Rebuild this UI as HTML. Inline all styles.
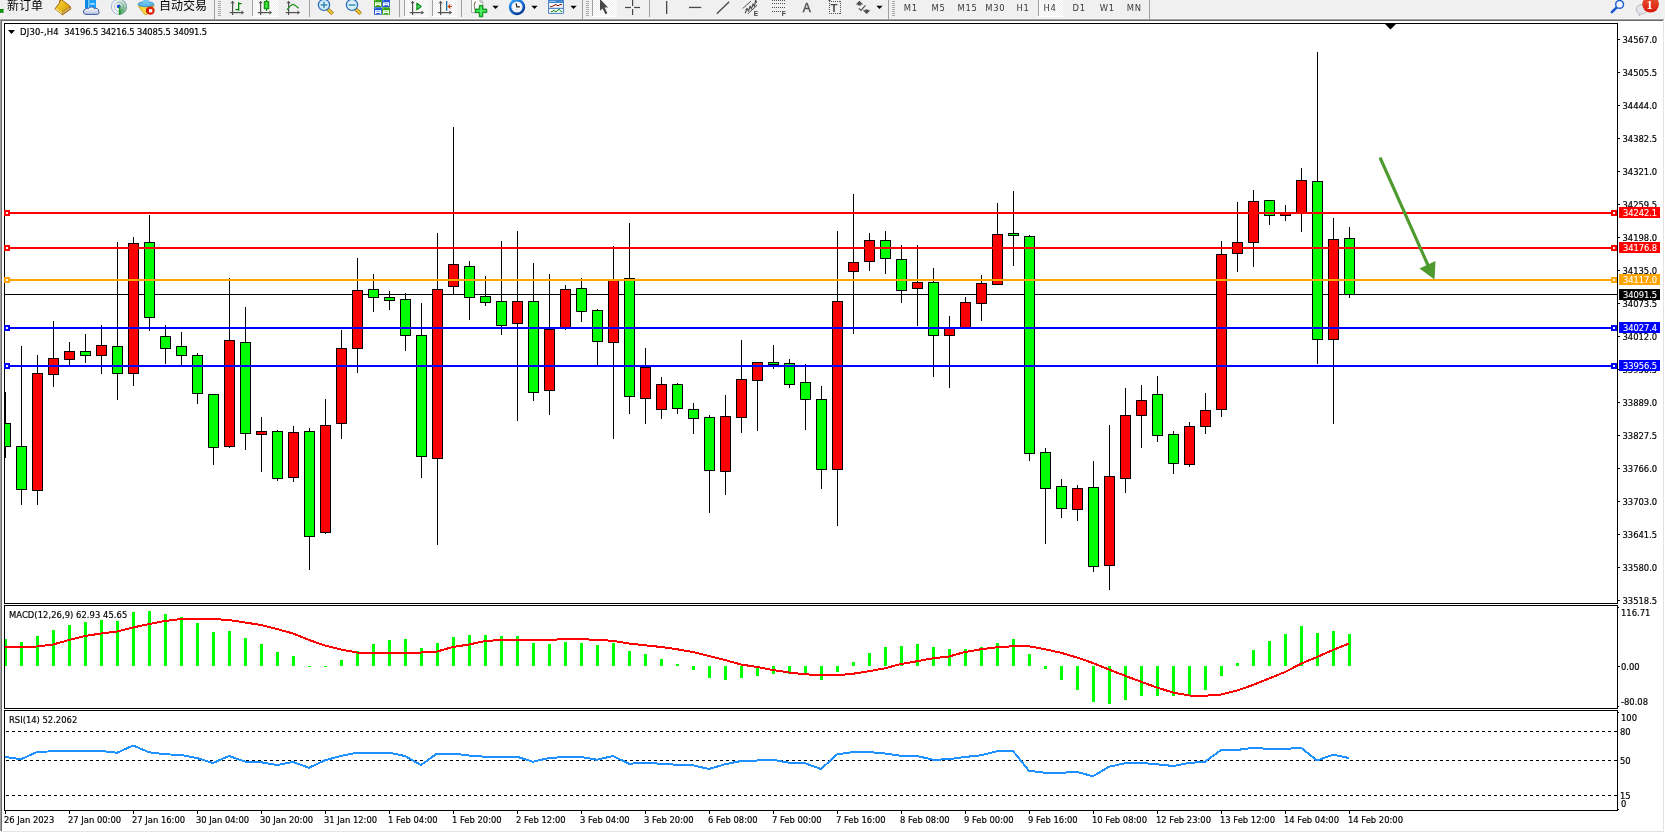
<!DOCTYPE html>
<html><head><meta charset="utf-8"><title>DJ30-,H4</title>
<style>
html,body{margin:0;padding:0;background:#fff;overflow:hidden}
body{width:1665px;height:833px;position:relative;font-family:"Liberation Sans","Noto Sans CJK SC",sans-serif}
.t{position:absolute;font-family:"DejaVu Sans Condensed","Liberation Sans",sans-serif;font-size:9.33px;line-height:12px;height:12px;white-space:pre;-webkit-text-stroke:0.18px currentColor}
.pb{position:absolute;left:1619px;width:41px;height:11px;color:#fff;font-family:"DejaVu Sans Condensed","Liberation Sans",sans-serif;font-size:9.33px;line-height:11px;white-space:pre}
.pb span{display:inline-block;margin-left:4px;-webkit-text-stroke:0.08px currentColor;letter-spacing:-0.1px}
#tb{position:absolute;left:0;top:0;width:1665px;height:22px;background:#f0f0f0}

.cj{position:absolute;font-size:12px;line-height:18px;height:18px;color:#000;white-space:pre;font-family:"Liberation Sans","Noto Sans CJK SC",sans-serif}
.tf{position:absolute;top:1px;font-family:"DejaVu Sans Condensed","Liberation Sans",sans-serif;font-size:9.33px;line-height:13px;color:#3a3a3a;white-space:pre;letter-spacing:0.7px}

</style></head><body>
<div id="tb"><svg width="1665" height="23" viewBox="0 0 1665 23" style="position:absolute;left:0;top:0;will-change:transform">
<defs><pattern id="dz" width="2" height="2" patternUnits="userSpaceOnUse"><rect width="2" height="2" fill="#f0f0f0"/><rect width="1" height="1" fill="#fff"/><rect x="1" y="1" width="1" height="1" fill="#fff"/></pattern><linearGradient id="gold" x1="0" y1="0" x2="1" y2="1"><stop offset="0" stop-color="#f8e060"/><stop offset="0.5" stop-color="#e8b818"/><stop offset="1" stop-color="#c88a10"/></linearGradient><linearGradient id="cloud" x1="0" y1="0" x2="0" y2="1"><stop offset="0" stop-color="#ffffff"/><stop offset="1" stop-color="#b8c4dc"/></linearGradient><linearGradient id="badge" x1="0" y1="0" x2="0" y2="1"><stop offset="0" stop-color="#e85838"/><stop offset="1" stop-color="#d81808"/></linearGradient><linearGradient id="grn" x1="0" y1="0" x2="1" y2="0"><stop offset="0" stop-color="#00b000"/><stop offset="0.5" stop-color="#50e850"/><stop offset="1" stop-color="#00a800"/></linearGradient><radialGradient id="lens"><stop offset="0" stop-color="#f0fbff"/><stop offset="1" stop-color="#c0e4f4"/></radialGradient><linearGradient id="clk" x1="0" y1="0" x2="0.6" y2="1"><stop offset="0" stop-color="#38a8f8"/><stop offset="0.55" stop-color="#1068d0"/><stop offset="1" stop-color="#083c98"/></linearGradient></defs>
<rect x="0" y="0" width="1665" height="18" fill="#f0f0f0"/>
<rect x="0" y="18" width="1665" height="1" fill="#f5f5f5"/>
<rect x="0" y="19" width="1664" height="1" fill="#a0a0a0"/>
<rect x="1" y="20" width="1662" height="1" fill="#696969"/>
<rect x="0" y="20" width="1" height="3" fill="#a0a0a0"/>
<rect x="1" y="21" width="1" height="2" fill="#696969"/>
<rect x="2" y="21" width="1661" height="2" fill="#fff"/>
<rect x="1663" y="20" width="1" height="3" fill="#e3e3e3"/><rect x="1664" y="19" width="1" height="4" fill="#fff"/>
<rect x="0" y="9" width="3.5" height="3.5" fill="#10a010"/><rect x="0" y="9" width="3.5" height="1" fill="#088008"/><rect x="0" y="11.7" width="3.5" height="0.9" fill="#087008"/>
<polygon points="60.6,-1 70,6.2 70.9,8.8 62.5,14.8 55,8.8 59.4,3" fill="url(#gold)" stroke="#a86808" stroke-width="1" stroke-linejoin="round"/><polygon points="69.9,6.9 70.5,8.6 62.7,14.1 61.9,12.5" fill="#d8c888" stroke="#986008" stroke-width="0.6"/><line x1="56" y1="8.7" x2="62" y2="13.3" stroke="#fce890" stroke-width="1.1"/><line x1="60.6" y1="-1" x2="59.4" y2="3" stroke="#a86808" stroke-width="1"/>
<rect x="85" y="-1" width="11" height="9.5" fill="#18a0f8"/><rect x="85" y="-1" width="3.4" height="9.5" fill="#0888e0"/><rect x="88.4" y="-1" width="0.9" height="9.5" fill="#b8e4ff"/><rect x="90.3" y="3.3" width="4.4" height="1.2" fill="#e8f6ff"/><path d="M86,14.4 a2.7,2.7 0 0 1 -0.6,-5.3 a2.6,2.6 0 0 1 3.2,-0.6 a3.3,3.3 0 0 1 5.8,0.2 a2.7,2.7 0 0 1 4.2,2.6 a1.9,1.9 0 0 1 -1,3.1 z" fill="url(#cloud)" stroke="#3858a0" stroke-width="1"/>
<circle cx="119" cy="6.7" r="7.9" fill="#f8f8f4" opacity="0.7"/><path d="M119,6.7 L118.72,14.60 A7.9,7.9 0 0 0 122.71,13.68 Z" fill="#2c9c34" opacity="0.85"/><path d="M119,6.7 L122.71,13.68 A7.9,7.9 0 0 0 125.70,10.89 Z" fill="#2c9c34" opacity="0.68"/><path d="M119,6.7 L125.70,10.89 A7.9,7.9 0 0 0 126.90,6.98 Z" fill="#2c9c34" opacity="0.52"/><path d="M119,6.7 L126.90,6.98 A7.9,7.9 0 0 0 125.98,2.99 Z" fill="#2c9c34" opacity="0.38"/><path d="M119,6.7 L125.98,2.99 A7.9,7.9 0 0 0 123.19,0.00 Z" fill="#2c9c34" opacity="0.26"/><path d="M119,6.7 L123.19,0.00 A7.9,7.9 0 0 0 119.28,-1.20 Z" fill="#2c9c34" opacity="0.16"/><path d="M119,6.7 L119.28,-1.20 A7.9,7.9 0 0 0 115.29,-0.28 Z" fill="#2c9c34" opacity="0.08"/><g fill="none"><circle cx="119" cy="6.7" r="7.6" stroke="#3868c8" stroke-width="1" opacity="0.45"/><circle cx="119" cy="6.7" r="4.6" stroke="#3868c8" stroke-width="1" opacity="0.4"/></g><circle cx="118.7" cy="6.4" r="1.9" fill="#2050c8"/><rect x="119" y="7" width="1.3" height="7.7" fill="#18a020"/>
<path d="M138.3,6.2 L154.1,5.8 L150,11 L146.6,14.7 L144.6,14.2 Z" fill="#f8d840" stroke="#d09010" stroke-width="0.8" stroke-linejoin="round"/><ellipse cx="146" cy="4.2" rx="8" ry="2.5" fill="#60b8e8" stroke="#2888b8" stroke-width="0.8"/><path d="M142.6,4 L143.6,-1 L148.4,-1 L149.6,4 Z" fill="#70c4f0"/><circle cx="150.5" cy="10.6" r="4.2" fill="#e02000"/><path d="M147.6,7.6 a4.2,4.2 0 0 0 0,6" fill="none" stroke="#a81800" stroke-width="1"/><rect x="149" y="9.1" width="3.3" height="3.2" fill="#fff"/>
<rect x="214" y="0" width="1" height="19" fill="#a0a0a0" shape-rendering="crispEdges"/>
<rect x="218" y="1" width="3" height="1" fill="#a8a8a8" shape-rendering="crispEdges"/>
<rect x="218" y="3" width="3" height="1" fill="#a8a8a8" shape-rendering="crispEdges"/>
<rect x="218" y="5" width="3" height="1" fill="#a8a8a8" shape-rendering="crispEdges"/>
<rect x="218" y="7" width="3" height="1" fill="#a8a8a8" shape-rendering="crispEdges"/>
<rect x="218" y="9" width="3" height="1" fill="#a8a8a8" shape-rendering="crispEdges"/>
<rect x="218" y="11" width="3" height="1" fill="#a8a8a8" shape-rendering="crispEdges"/>
<rect x="218" y="13" width="3" height="1" fill="#a8a8a8" shape-rendering="crispEdges"/>
<rect x="218" y="15" width="3" height="1" fill="#a8a8a8" shape-rendering="crispEdges"/>
<g fill="#505050"><rect x="232" y="2" width="1.2" height="13"/><polygon points="230.5,3.3 232.6,0.8 234.7,3.3"/><rect x="229.8" y="12" width="12" height="1.2"/><polygon points="241.5,10.5 244,12.6 241.5,14.7"/></g>
<g fill="#008800"><rect x="238" y="2.2" width="1.3" height="8.6"/><rect x="238" y="3" width="3.6" height="1.2"/><rect x="235.6" y="9" width="3" height="1.2"/></g>
<rect x="252" y="0" width="1" height="17" fill="#a0a0a0" shape-rendering="crispEdges"/>
<rect x="253" y="0" width="25" height="16" fill="url(#dz)" shape-rendering="crispEdges"/>
<rect x="252" y="16" width="26" height="1" fill="#fff" shape-rendering="crispEdges"/>
<g fill="#505050"><rect x="260" y="2" width="1.2" height="13"/><polygon points="258.5,3.3 260.6,0.8 262.7,3.3"/><rect x="257.8" y="12" width="12" height="1.2"/><polygon points="269.5,10.5 272,12.6 269.5,14.7"/></g>
<rect x="265.9" y="-1" width="1.3" height="11.8" fill="#008800"/><rect x="264.2" y="1.6" width="4.6" height="7.2" fill="url(#grn)" stroke="#008800" stroke-width="0.9"/>
<g fill="#505050"><rect x="288" y="2" width="1.2" height="13"/><polygon points="286.5,3.3 288.6,0.8 290.7,3.3"/><rect x="285.8" y="12" width="12" height="1.2"/><polygon points="297.5,10.5 300,12.6 297.5,14.7"/></g>
<path d="M287,9.8 Q290.5,5 293.2,4.4 Q295.5,5.2 298.6,8.2" fill="none" stroke="#289828" stroke-width="1.3"/>
<rect x="309" y="0" width="1" height="17" fill="#a0a0a0" shape-rendering="crispEdges"/>
<line x1="327.8" y1="9.2" x2="332.7" y2="13.8" stroke="#a06808" stroke-width="3.6"/><line x1="328.2" y1="9.6" x2="332.4" y2="13.5" stroke="#f0d030" stroke-width="2"/><circle cx="324" cy="4.9" r="5.6" fill="url(#lens)" stroke="#2868b8" stroke-width="1.2"/><rect x="320.8" y="4.2" width="6.4" height="1.5" fill="#3888b0"/>
<rect x="323.25" y="1.7" width="1.5" height="6.4" fill="#3888b0"/>
<line x1="355.8" y1="9.2" x2="360.7" y2="13.8" stroke="#a06808" stroke-width="3.6"/><line x1="356.2" y1="9.6" x2="360.4" y2="13.5" stroke="#f0d030" stroke-width="2"/><circle cx="352" cy="4.9" r="5.6" fill="url(#lens)" stroke="#2868b8" stroke-width="1.2"/><rect x="348.8" y="4.2" width="6.4" height="1.5" fill="#3888b0"/>
<rect x="374" y="-0.6" width="7.9" height="7.5" rx="0.6" fill="#38a018"/><rect x="375" y="2.3" width="6" height="3.7" fill="#fff"/><rect x="376.2" y="3.1999999999999997" width="3.6" height="0.9" fill="#a0e080"/><rect x="376.2" y="5.1000000000000005" width="3.6" height="1" fill="#38a018"/><rect x="375" y="0.4" width="0.9" height="0.8" fill="#a0e080"/>
<rect x="382.1" y="-0.6" width="7.9" height="7.5" rx="0.6" fill="#2458d8"/><rect x="383.1" y="2.3" width="6" height="3.7" fill="#fff"/><rect x="384.3" y="3.1999999999999997" width="3.6" height="0.9" fill="#90b0f8"/><rect x="384.3" y="5.1000000000000005" width="3.6" height="1" fill="#2458d8"/><rect x="383.1" y="0.4" width="0.9" height="0.8" fill="#90b0f8"/>
<rect x="374" y="7.3" width="7.9" height="7.5" rx="0.6" fill="#2458d8"/><rect x="375" y="10.2" width="6" height="3.7" fill="#fff"/><rect x="376.2" y="11.1" width="3.6" height="0.9" fill="#90b0f8"/><rect x="376.2" y="13.0" width="3.6" height="1" fill="#2458d8"/><rect x="375" y="8.3" width="0.9" height="0.8" fill="#90b0f8"/>
<rect x="382.1" y="7.3" width="7.9" height="7.5" rx="0.6" fill="#38a018"/><rect x="383.1" y="10.2" width="6" height="3.7" fill="#fff"/><rect x="384.3" y="11.1" width="3.6" height="0.9" fill="#a0e080"/><rect x="384.3" y="13.0" width="3.6" height="1" fill="#38a018"/><rect x="383.1" y="8.3" width="0.9" height="0.8" fill="#a0e080"/>
<rect x="399" y="0" width="1" height="17" fill="#a0a0a0" shape-rendering="crispEdges"/>
<rect x="404" y="0" width="1" height="17" fill="#a0a0a0" shape-rendering="crispEdges"/>
<rect x="405" y="0" width="24" height="16" fill="url(#dz)" shape-rendering="crispEdges"/>
<rect x="404" y="16" width="25" height="1" fill="#fff" shape-rendering="crispEdges"/>
<g fill="#505050"><rect x="412" y="2" width="1.2" height="13"/><polygon points="410.5,3.3 412.6,0.8 414.7,3.3"/><rect x="409.8" y="12" width="12" height="1.2"/><polygon points="421.5,10.5 424,12.6 421.5,14.7"/></g>
<polygon points="416.9,3.1 421.2,6.5 416.9,9.9" fill="#50e070" stroke="#088c10" stroke-width="1.2" stroke-linejoin="round"/>
<rect x="432" y="0" width="1" height="17" fill="#a0a0a0" shape-rendering="crispEdges"/>
<rect x="433" y="0" width="24" height="16" fill="url(#dz)" shape-rendering="crispEdges"/>
<rect x="432" y="16" width="25" height="1" fill="#fff" shape-rendering="crispEdges"/>
<g fill="#505050"><rect x="440" y="2" width="1.2" height="13"/><polygon points="438.5,3.3 440.6,0.8 442.7,3.3"/><rect x="437.8" y="12" width="12" height="1.2"/><polygon points="449.5,10.5 452,12.6 449.5,14.7"/></g>
<rect x="446" y="1" width="1.3" height="9.8" fill="#1870a0"/><polygon points="447.5,6.5 450.5,3.8 450,6 452,6 452,7 450,7 450.5,9.2" fill="#d84000"/>
<rect x="461" y="0" width="1" height="17" fill="#a0a0a0" shape-rendering="crispEdges"/>
<path d="M471.5,-1 L480,-1 L482.8,2 L482.8,12.6 L471.5,12.6 Z" fill="#fcfcfc" stroke="#a0a0a0" stroke-width="0.9"/><path d="M480,-1 L480,2 L482.8,2" fill="#e8e8e8" stroke="#909090" stroke-width="0.7"/><path d="M476,1.8 q-1.6,0.2 -1.4,2 q0.2,1.6 -0.8,2 q1,0.4 0.8,2 q-0.2,1.8 1.4,2" fill="none" stroke="#5a5030" stroke-width="0.9"/><path d="M479.3,5.4 h3.5 v3.7 h4 v3.5 h-4 v4.2 h-3.5 v-4.2 h-4.1 v-3.5 h4.1 z" fill="#10c828" stroke="#088010" stroke-width="0.9" stroke-linejoin="round"/><path d="M480.3,6.6 h1.5 v3.6 h3.8 v1.3 h-3.8 v4 h-1.5 v-4 h-3.9 v-1.3 h3.9 z" fill="#70f880" opacity="0.85"/>
<polygon points="492.3,5.8 498.7,5.8 495.5,9.1" fill="#000"/>
<rect x="514.5" y="-1" width="5" height="2.5" fill="#2890e8"/><circle cx="517" cy="7" r="6.9" fill="#fbfbfb" stroke="url(#clk)" stroke-width="2.6"/><path d="M516.2,3.4 L516.8,6.9 L519.9,6.9" fill="none" stroke="#222" stroke-width="1.2"/><rect x="516.2" y="9.2" width="1.4" height="0.7" fill="#78b0f0"/><circle cx="517" cy="7" r="4.6" fill="none" stroke="#b0b8c8" stroke-width="0.6" stroke-dasharray="0.8,1.6"/>
<polygon points="531.3,5.8 537.7,5.8 534.5,9.1" fill="#000"/>
<rect x="548.2" y="-1" width="15.6" height="14.7" rx="0.8" fill="#2a6cb8"/><rect x="549" y="0.4" width="14" height="2.2" fill="#4a90d8"/><rect x="549.4" y="0.9" width="6" height="0.8" fill="#b8dcff"/><rect x="549.1" y="3" width="13.8" height="4.8" fill="#fff"/><rect x="549.1" y="8.8" width="13.8" height="4.1" fill="#fff"/><rect x="550.2" y="6.0" width="2.599999999999909" height="1.1" fill="#8c1808"/><rect x="552.8" y="5.0" width="2.0" height="1.1" fill="#8c1808"/><rect x="554.8" y="4.0" width="1.8000000000000682" height="1.1" fill="#8c1808"/><rect x="556.6" y="5.0" width="2.7999999999999545" height="1.1" fill="#8c1808"/><rect x="559.4" y="4.0" width="2.3999999999999773" height="1.1" fill="#8c1808"/><rect x="551" y="11.0" width="1.7999999999999545" height="1.1" fill="#0c8c1c"/><rect x="552.8" y="10.0" width="1.8000000000000682" height="1.1" fill="#0c8c1c"/><rect x="554.6" y="11.0" width="2.199999999999932" height="1.1" fill="#0c8c1c"/><rect x="556.8" y="10.0" width="1.2000000000000455" height="1.1" fill="#0c8c1c"/><rect x="558" y="9.0" width="1.7999999999999545" height="1.1" fill="#0c8c1c"/><rect x="559.8" y="10.0" width="1.0" height="1.1" fill="#0c8c1c"/><rect x="560.8" y="11.0" width="1.2000000000000455" height="1.1" fill="#0c8c1c"/>
<polygon points="570.3,5.8 576.7,5.8 573.5,9.1" fill="#000"/>
<rect x="582" y="0" width="1" height="19" fill="#a0a0a0" shape-rendering="crispEdges"/>
<rect x="586" y="1" width="3" height="1" fill="#a8a8a8" shape-rendering="crispEdges"/>
<rect x="586" y="3" width="3" height="1" fill="#a8a8a8" shape-rendering="crispEdges"/>
<rect x="586" y="5" width="3" height="1" fill="#a8a8a8" shape-rendering="crispEdges"/>
<rect x="586" y="7" width="3" height="1" fill="#a8a8a8" shape-rendering="crispEdges"/>
<rect x="586" y="9" width="3" height="1" fill="#a8a8a8" shape-rendering="crispEdges"/>
<rect x="586" y="11" width="3" height="1" fill="#a8a8a8" shape-rendering="crispEdges"/>
<rect x="586" y="13" width="3" height="1" fill="#a8a8a8" shape-rendering="crispEdges"/>
<rect x="586" y="15" width="3" height="1" fill="#a8a8a8" shape-rendering="crispEdges"/>
<rect x="592" y="0" width="1" height="17" fill="#a0a0a0" shape-rendering="crispEdges"/>
<rect x="593" y="0" width="24" height="16" fill="url(#dz)" shape-rendering="crispEdges"/>
<rect x="592" y="16" width="25" height="1" fill="#fff" shape-rendering="crispEdges"/>
<polygon points="600,-1 600,10.8 602.6,8.4 605.4,14.2 607.4,13.2 604.6,7.6 608,7.4" fill="#484848"/>
<g fill="#484848"><rect x="625" y="6.9" width="6" height="1.2"/><rect x="634" y="6.9" width="6" height="1.2"/><rect x="632" y="-1" width="1.2" height="7"/><rect x="632" y="9" width="1.2" height="6"/></g>
<rect x="649" y="0" width="1" height="17" fill="#a0a0a0" shape-rendering="crispEdges"/>
<rect x="666" y="1" width="1.3" height="13" fill="#484848"/>
<rect x="689" y="6.8" width="12.2" height="1.3" fill="#484848"/>
<line x1="716.8" y1="13.8" x2="729.2" y2="1.8" stroke="#484848" stroke-width="1.3"/>
<g stroke="#505050" fill="none"><line x1="742.7" y1="8.5" x2="750.9" y2="1.2" stroke-width="1"/><line x1="747.8" y1="13.9" x2="757.3" y2="5" stroke-width="1"/><polyline transform="translate(1.1,0.7)" points="744.2,12.6 745.8,7.6 747.4,10.4 749,5.4 750.4,8.2 752,3.2 753.4,5.8 754.6,-0.8 755.4,2.2" stroke-width="1.2" stroke-linejoin="round"/></g>
<text x="753.8" y="15.8" font-family="Liberation Sans, sans-serif" font-weight="bold" font-size="6.6" fill="#404040">E</text>
<rect x="772" y="0" width="1" height="1" fill="#505050" shape-rendering="crispEdges"/>
<rect x="774" y="0" width="1" height="1" fill="#505050" shape-rendering="crispEdges"/>
<rect x="776" y="0" width="1" height="1" fill="#505050" shape-rendering="crispEdges"/>
<rect x="778" y="0" width="1" height="1" fill="#505050" shape-rendering="crispEdges"/>
<rect x="780" y="0" width="1" height="1" fill="#505050" shape-rendering="crispEdges"/>
<rect x="782" y="0" width="1" height="1" fill="#505050" shape-rendering="crispEdges"/>
<rect x="784" y="0" width="1" height="1" fill="#505050" shape-rendering="crispEdges"/>
<rect x="772" y="3" width="1" height="1" fill="#505050" shape-rendering="crispEdges"/>
<rect x="774" y="3" width="1" height="1" fill="#505050" shape-rendering="crispEdges"/>
<rect x="776" y="3" width="1" height="1" fill="#505050" shape-rendering="crispEdges"/>
<rect x="778" y="3" width="1" height="1" fill="#505050" shape-rendering="crispEdges"/>
<rect x="780" y="3" width="1" height="1" fill="#505050" shape-rendering="crispEdges"/>
<rect x="782" y="3" width="1" height="1" fill="#505050" shape-rendering="crispEdges"/>
<rect x="784" y="3" width="1" height="1" fill="#505050" shape-rendering="crispEdges"/>
<rect x="772" y="7" width="1" height="1" fill="#505050" shape-rendering="crispEdges"/>
<rect x="774" y="7" width="1" height="1" fill="#505050" shape-rendering="crispEdges"/>
<rect x="776" y="7" width="1" height="1" fill="#505050" shape-rendering="crispEdges"/>
<rect x="778" y="7" width="1" height="1" fill="#505050" shape-rendering="crispEdges"/>
<rect x="780" y="7" width="1" height="1" fill="#505050" shape-rendering="crispEdges"/>
<rect x="782" y="7" width="1" height="1" fill="#505050" shape-rendering="crispEdges"/>
<rect x="784" y="7" width="1" height="1" fill="#505050" shape-rendering="crispEdges"/>
<rect x="772" y="11" width="1" height="1" fill="#505050" shape-rendering="crispEdges"/>
<rect x="774" y="11" width="1" height="1" fill="#505050" shape-rendering="crispEdges"/>
<rect x="776" y="11" width="1" height="1" fill="#505050" shape-rendering="crispEdges"/>
<rect x="778" y="11" width="1" height="1" fill="#505050" shape-rendering="crispEdges"/>
<rect x="780" y="11" width="1" height="1" fill="#505050" shape-rendering="crispEdges"/>
<text x="781.8" y="15.8" font-family="Liberation Sans, sans-serif" font-weight="bold" font-size="6.6" fill="#404040">F</text>
<text x="802.8" y="11.9" font-family="Liberation Sans, sans-serif" font-size="12" fill="#505050" stroke="#505050" stroke-width="0.45">A</text>
<rect x="829" y="1" width="1" height="1" fill="#505050" shape-rendering="crispEdges"/><rect x="829" y="13" width="1" height="1" fill="#505050" shape-rendering="crispEdges"/>
<rect x="831" y="1" width="1" height="1" fill="#505050" shape-rendering="crispEdges"/><rect x="831" y="13" width="1" height="1" fill="#505050" shape-rendering="crispEdges"/>
<rect x="833" y="1" width="1" height="1" fill="#505050" shape-rendering="crispEdges"/><rect x="833" y="13" width="1" height="1" fill="#505050" shape-rendering="crispEdges"/>
<rect x="835" y="1" width="1" height="1" fill="#505050" shape-rendering="crispEdges"/><rect x="835" y="13" width="1" height="1" fill="#505050" shape-rendering="crispEdges"/>
<rect x="837" y="1" width="1" height="1" fill="#505050" shape-rendering="crispEdges"/><rect x="837" y="13" width="1" height="1" fill="#505050" shape-rendering="crispEdges"/>
<rect x="839" y="1" width="1" height="1" fill="#505050" shape-rendering="crispEdges"/><rect x="839" y="13" width="1" height="1" fill="#505050" shape-rendering="crispEdges"/>
<rect x="829" y="1" width="1" height="1" fill="#505050" shape-rendering="crispEdges"/><rect x="840" y="1" width="1" height="1" fill="#505050" shape-rendering="crispEdges"/>
<rect x="829" y="3" width="1" height="1" fill="#505050" shape-rendering="crispEdges"/><rect x="840" y="3" width="1" height="1" fill="#505050" shape-rendering="crispEdges"/>
<rect x="829" y="5" width="1" height="1" fill="#505050" shape-rendering="crispEdges"/><rect x="840" y="5" width="1" height="1" fill="#505050" shape-rendering="crispEdges"/>
<rect x="829" y="7" width="1" height="1" fill="#505050" shape-rendering="crispEdges"/><rect x="840" y="7" width="1" height="1" fill="#505050" shape-rendering="crispEdges"/>
<rect x="829" y="9" width="1" height="1" fill="#505050" shape-rendering="crispEdges"/><rect x="840" y="9" width="1" height="1" fill="#505050" shape-rendering="crispEdges"/>
<rect x="829" y="11" width="1" height="1" fill="#505050" shape-rendering="crispEdges"/><rect x="840" y="11" width="1" height="1" fill="#505050" shape-rendering="crispEdges"/>
<rect x="829" y="13" width="1" height="1" fill="#505050" shape-rendering="crispEdges"/><rect x="840" y="13" width="1" height="1" fill="#505050" shape-rendering="crispEdges"/>
<rect x="828.5" y="-0.5" width="2" height="1.5" fill="#484848"/><text x="830.6" y="11.9" font-family="Liberation Sans, sans-serif" font-weight="bold" font-size="11.4" fill="#505050">T</text>
<g fill="#505050"><polygon points="859.4,0.8 863.2,4.4 861,4.4 861,5.4 857.8,5.4 857.8,4.4 855.6,4.4"/><polygon points="866.6,14 862.8,10.2 865,10.2 865,9.4 868.2,9.4 868.2,10.2 870.4,10.2"/></g><polyline points="858.8,8.4 861,10.4 865.4,5.4" fill="none" stroke="#505050" stroke-width="1.2"/>
<polygon points="876.3,5.8 882.7,5.8 879.5,9.1" fill="#000"/>
<rect x="888" y="0" width="1" height="19" fill="#a0a0a0" shape-rendering="crispEdges"/>
<rect x="892" y="1" width="3" height="1" fill="#a8a8a8" shape-rendering="crispEdges"/>
<rect x="892" y="3" width="3" height="1" fill="#a8a8a8" shape-rendering="crispEdges"/>
<rect x="892" y="5" width="3" height="1" fill="#a8a8a8" shape-rendering="crispEdges"/>
<rect x="892" y="7" width="3" height="1" fill="#a8a8a8" shape-rendering="crispEdges"/>
<rect x="892" y="9" width="3" height="1" fill="#a8a8a8" shape-rendering="crispEdges"/>
<rect x="892" y="11" width="3" height="1" fill="#a8a8a8" shape-rendering="crispEdges"/>
<rect x="892" y="13" width="3" height="1" fill="#a8a8a8" shape-rendering="crispEdges"/>
<rect x="892" y="15" width="3" height="1" fill="#a8a8a8" shape-rendering="crispEdges"/>
<rect x="1038" y="0" width="1" height="17" fill="#a0a0a0" shape-rendering="crispEdges"/>
<rect x="1039" y="0" width="24" height="16" fill="url(#dz)" shape-rendering="crispEdges"/>
<rect x="1038" y="16" width="25" height="1" fill="#fff" shape-rendering="crispEdges"/>
<rect x="1149" y="0" width="1" height="19" fill="#a0a0a0" shape-rendering="crispEdges"/>
<line x1="1616.2" y1="7.8" x2="1611.9" y2="12.1" stroke="#1a58d0" stroke-width="2.6" stroke-linecap="round"/><circle cx="1619.6" cy="4.4" r="3.9" fill="#f4f4ff" stroke="#2060d0" stroke-width="1.5"/>
<path d="M1636.2,9.2 a5.6,4.6 0 1 1 5.2,4.6 l-2.2,2 l0,-2.4 a5.2,4.4 0 0 1 -3,-4.2 z" fill="#e4e4ec" stroke="#b0b0b4" stroke-width="0.9"/><circle cx="1650.6" cy="4.3" r="8.3" fill="url(#badge)"/><text x="1646.6" y="9" font-family="Liberation Serif, serif" font-weight="bold" font-size="12.5" fill="#fff">1</text>
</svg>
<div class="cj" style="left:7px;top:-3px">新订单</div>
<div class="cj" style="left:159px;top:-3px">自动交易</div>
<div class="tf" style="left:903.8px">M1</div>
<div class="tf" style="left:931.6px">M5</div>
<div class="tf" style="left:957.6px">M15</div>
<div class="tf" style="left:985.2px">M30</div>
<div class="tf" style="left:1016.4px">H1</div>
<div class="tf" style="left:1043.6px">H4</div>
<div class="tf" style="left:1072.6px">D1</div>
<div class="tf" style="left:1099.8px">W1</div>
<div class="tf" style="left:1126.7px">MN</div></div>
<svg width="1665" height="833" viewBox="0 0 1665 833" style="position:absolute;left:0;top:0" shape-rendering="crispEdges">
<rect x="4" y="23" width="1614" height="1" fill="#000"/>
<rect x="4" y="23" width="1" height="581" fill="#000"/>
<rect x="1617" y="23" width="1" height="581" fill="#000"/>
<rect x="4" y="603" width="1614" height="1" fill="#000"/>
<rect x="4" y="605" width="1614" height="1" fill="#000"/>
<rect x="4" y="605" width="1" height="104" fill="#000"/>
<rect x="1617" y="605" width="1" height="104" fill="#000"/>
<rect x="4" y="708" width="1614" height="1" fill="#000"/>
<rect x="4" y="710" width="1614" height="1" fill="#000"/>
<rect x="4" y="710" width="1" height="101" fill="#000"/>
<rect x="1617" y="710" width="1" height="101" fill="#000"/>
<rect x="4" y="810" width="1614" height="1" fill="#000"/>
<rect x="0" y="20" width="1" height="811" fill="#a0a0a0"/>
<rect x="1" y="21" width="1" height="810" fill="#696969"/>
<rect x="1663" y="20" width="1" height="812" fill="#e3e3e3"/>
<rect x="1" y="831" width="1663" height="1" fill="#e3e3e3"/>
<polygon points="8,30 15,30 11.5,34" fill="#000" shape-rendering="auto"/>
<defs><clipPath id="cp"><rect x="5" y="24" width="1612" height="579"/></clipPath></defs>
<g clip-path="url(#cp)">
<rect x="5" y="294" width="1612" height="1" fill="#000"/>
<rect x="5" y="392" width="1" height="66" fill="#000"/>
<rect x="0" y="423" width="11" height="24" fill="#000"/>
<rect x="1" y="424" width="9" height="22" fill="#00ff00"/>
<rect x="21" y="346" width="1" height="159" fill="#000"/>
<rect x="16" y="446" width="11" height="44" fill="#000"/>
<rect x="17" y="447" width="9" height="42" fill="#00ff00"/>
<rect x="37" y="355" width="1" height="150" fill="#000"/>
<rect x="32" y="373" width="11" height="118" fill="#000"/>
<rect x="33" y="374" width="9" height="116" fill="#ff0000"/>
<rect x="53" y="321" width="1" height="66" fill="#000"/>
<rect x="48" y="358" width="11" height="17" fill="#000"/>
<rect x="49" y="359" width="9" height="15" fill="#ff0000"/>
<rect x="69" y="342" width="1" height="24" fill="#000"/>
<rect x="64" y="351" width="11" height="9" fill="#000"/>
<rect x="65" y="352" width="9" height="7" fill="#ff0000"/>
<rect x="85" y="334" width="1" height="29" fill="#000"/>
<rect x="80" y="351" width="11" height="5" fill="#000"/>
<rect x="81" y="352" width="9" height="3" fill="#00ff00"/>
<rect x="101" y="325" width="1" height="49" fill="#000"/>
<rect x="96" y="345" width="11" height="11" fill="#000"/>
<rect x="97" y="346" width="9" height="9" fill="#ff0000"/>
<rect x="117" y="242" width="1" height="158" fill="#000"/>
<rect x="112" y="346" width="11" height="28" fill="#000"/>
<rect x="113" y="347" width="9" height="26" fill="#00ff00"/>
<rect x="133" y="237" width="1" height="149" fill="#000"/>
<rect x="128" y="243" width="11" height="131" fill="#000"/>
<rect x="129" y="244" width="9" height="129" fill="#ff0000"/>
<rect x="149" y="215" width="1" height="116" fill="#000"/>
<rect x="144" y="242" width="11" height="76" fill="#000"/>
<rect x="145" y="243" width="9" height="74" fill="#00ff00"/>
<rect x="165" y="325" width="1" height="39" fill="#000"/>
<rect x="160" y="336" width="11" height="13" fill="#000"/>
<rect x="161" y="337" width="9" height="11" fill="#00ff00"/>
<rect x="181" y="332" width="1" height="34" fill="#000"/>
<rect x="176" y="346" width="11" height="10" fill="#000"/>
<rect x="177" y="347" width="9" height="8" fill="#00ff00"/>
<rect x="197" y="353" width="1" height="51" fill="#000"/>
<rect x="192" y="355" width="11" height="39" fill="#000"/>
<rect x="193" y="356" width="9" height="37" fill="#00ff00"/>
<rect x="213" y="394" width="1" height="71" fill="#000"/>
<rect x="208" y="394" width="11" height="54" fill="#000"/>
<rect x="209" y="395" width="9" height="52" fill="#00ff00"/>
<rect x="229" y="278" width="1" height="170" fill="#000"/>
<rect x="224" y="340" width="11" height="107" fill="#000"/>
<rect x="225" y="341" width="9" height="105" fill="#ff0000"/>
<rect x="245" y="307" width="1" height="143" fill="#000"/>
<rect x="240" y="342" width="11" height="92" fill="#000"/>
<rect x="241" y="343" width="9" height="90" fill="#00ff00"/>
<rect x="261" y="417" width="1" height="55" fill="#000"/>
<rect x="256" y="431" width="11" height="4" fill="#000"/>
<rect x="257" y="432" width="9" height="2" fill="#ff0000"/>
<rect x="277" y="430" width="1" height="51" fill="#000"/>
<rect x="272" y="431" width="11" height="48" fill="#000"/>
<rect x="273" y="432" width="9" height="46" fill="#00ff00"/>
<rect x="293" y="426" width="1" height="56" fill="#000"/>
<rect x="288" y="432" width="11" height="46" fill="#000"/>
<rect x="289" y="433" width="9" height="44" fill="#ff0000"/>
<rect x="309" y="428" width="1" height="142" fill="#000"/>
<rect x="304" y="431" width="11" height="106" fill="#000"/>
<rect x="305" y="432" width="9" height="104" fill="#00ff00"/>
<rect x="325" y="399" width="1" height="135" fill="#000"/>
<rect x="320" y="425" width="11" height="108" fill="#000"/>
<rect x="321" y="426" width="9" height="106" fill="#ff0000"/>
<rect x="341" y="330" width="1" height="109" fill="#000"/>
<rect x="336" y="348" width="11" height="76" fill="#000"/>
<rect x="337" y="349" width="9" height="74" fill="#ff0000"/>
<rect x="357" y="258" width="1" height="115" fill="#000"/>
<rect x="352" y="290" width="11" height="59" fill="#000"/>
<rect x="353" y="291" width="9" height="57" fill="#ff0000"/>
<rect x="373" y="274" width="1" height="38" fill="#000"/>
<rect x="368" y="289" width="11" height="9" fill="#000"/>
<rect x="369" y="290" width="9" height="7" fill="#00ff00"/>
<rect x="389" y="291" width="1" height="19" fill="#000"/>
<rect x="384" y="297" width="11" height="4" fill="#000"/>
<rect x="385" y="298" width="9" height="2" fill="#00ff00"/>
<rect x="405" y="293" width="1" height="58" fill="#000"/>
<rect x="400" y="299" width="11" height="37" fill="#000"/>
<rect x="401" y="300" width="9" height="35" fill="#00ff00"/>
<rect x="421" y="303" width="1" height="175" fill="#000"/>
<rect x="416" y="335" width="11" height="122" fill="#000"/>
<rect x="417" y="336" width="9" height="120" fill="#00ff00"/>
<rect x="437" y="233" width="1" height="312" fill="#000"/>
<rect x="432" y="289" width="11" height="170" fill="#000"/>
<rect x="433" y="290" width="9" height="168" fill="#ff0000"/>
<rect x="453" y="127" width="1" height="168" fill="#000"/>
<rect x="448" y="264" width="11" height="23" fill="#000"/>
<rect x="449" y="265" width="9" height="21" fill="#ff0000"/>
<rect x="469" y="261" width="1" height="59" fill="#000"/>
<rect x="464" y="266" width="11" height="32" fill="#000"/>
<rect x="465" y="267" width="9" height="30" fill="#00ff00"/>
<rect x="485" y="276" width="1" height="30" fill="#000"/>
<rect x="480" y="296" width="11" height="7" fill="#000"/>
<rect x="481" y="297" width="9" height="5" fill="#00ff00"/>
<rect x="501" y="241" width="1" height="94" fill="#000"/>
<rect x="496" y="301" width="11" height="25" fill="#000"/>
<rect x="497" y="302" width="9" height="23" fill="#00ff00"/>
<rect x="517" y="231" width="1" height="190" fill="#000"/>
<rect x="512" y="301" width="11" height="23" fill="#000"/>
<rect x="513" y="302" width="9" height="21" fill="#ff0000"/>
<rect x="533" y="263" width="1" height="138" fill="#000"/>
<rect x="528" y="301" width="11" height="92" fill="#000"/>
<rect x="529" y="302" width="9" height="90" fill="#00ff00"/>
<rect x="549" y="274" width="1" height="141" fill="#000"/>
<rect x="544" y="329" width="11" height="62" fill="#000"/>
<rect x="545" y="330" width="9" height="60" fill="#ff0000"/>
<rect x="565" y="285" width="1" height="45" fill="#000"/>
<rect x="560" y="289" width="11" height="39" fill="#000"/>
<rect x="561" y="290" width="9" height="37" fill="#ff0000"/>
<rect x="581" y="278" width="1" height="44" fill="#000"/>
<rect x="576" y="288" width="11" height="24" fill="#000"/>
<rect x="577" y="289" width="9" height="22" fill="#00ff00"/>
<rect x="597" y="309" width="1" height="57" fill="#000"/>
<rect x="592" y="310" width="11" height="32" fill="#000"/>
<rect x="593" y="311" width="9" height="30" fill="#00ff00"/>
<rect x="613" y="246" width="1" height="193" fill="#000"/>
<rect x="608" y="280" width="11" height="63" fill="#000"/>
<rect x="609" y="281" width="9" height="61" fill="#ff0000"/>
<rect x="629" y="223" width="1" height="191" fill="#000"/>
<rect x="624" y="278" width="11" height="119" fill="#000"/>
<rect x="625" y="279" width="9" height="117" fill="#00ff00"/>
<rect x="645" y="348" width="1" height="76" fill="#000"/>
<rect x="640" y="367" width="11" height="32" fill="#000"/>
<rect x="641" y="368" width="9" height="30" fill="#ff0000"/>
<rect x="661" y="377" width="1" height="42" fill="#000"/>
<rect x="656" y="384" width="11" height="26" fill="#000"/>
<rect x="657" y="385" width="9" height="24" fill="#ff0000"/>
<rect x="677" y="383" width="1" height="31" fill="#000"/>
<rect x="672" y="384" width="11" height="25" fill="#000"/>
<rect x="673" y="385" width="9" height="23" fill="#00ff00"/>
<rect x="693" y="403" width="1" height="31" fill="#000"/>
<rect x="688" y="409" width="11" height="10" fill="#000"/>
<rect x="689" y="410" width="9" height="8" fill="#00ff00"/>
<rect x="709" y="415" width="1" height="98" fill="#000"/>
<rect x="704" y="417" width="11" height="54" fill="#000"/>
<rect x="705" y="418" width="9" height="52" fill="#00ff00"/>
<rect x="725" y="395" width="1" height="100" fill="#000"/>
<rect x="720" y="416" width="11" height="56" fill="#000"/>
<rect x="721" y="417" width="9" height="54" fill="#ff0000"/>
<rect x="741" y="340" width="1" height="93" fill="#000"/>
<rect x="736" y="379" width="11" height="39" fill="#000"/>
<rect x="737" y="380" width="9" height="37" fill="#ff0000"/>
<rect x="757" y="362" width="1" height="69" fill="#000"/>
<rect x="752" y="362" width="11" height="19" fill="#000"/>
<rect x="753" y="363" width="9" height="17" fill="#ff0000"/>
<rect x="773" y="345" width="1" height="24" fill="#000"/>
<rect x="768" y="362" width="11" height="3" fill="#000"/>
<rect x="769" y="363" width="9" height="1" fill="#00ff00"/>
<rect x="789" y="359" width="1" height="29" fill="#000"/>
<rect x="784" y="363" width="11" height="22" fill="#000"/>
<rect x="785" y="364" width="9" height="20" fill="#00ff00"/>
<rect x="805" y="364" width="1" height="66" fill="#000"/>
<rect x="800" y="382" width="11" height="18" fill="#000"/>
<rect x="801" y="383" width="9" height="16" fill="#00ff00"/>
<rect x="821" y="386" width="1" height="103" fill="#000"/>
<rect x="816" y="399" width="11" height="71" fill="#000"/>
<rect x="817" y="400" width="9" height="69" fill="#00ff00"/>
<rect x="837" y="231" width="1" height="295" fill="#000"/>
<rect x="832" y="301" width="11" height="169" fill="#000"/>
<rect x="833" y="302" width="9" height="167" fill="#ff0000"/>
<rect x="853" y="194" width="1" height="140" fill="#000"/>
<rect x="848" y="262" width="11" height="10" fill="#000"/>
<rect x="849" y="263" width="9" height="8" fill="#ff0000"/>
<rect x="869" y="233" width="1" height="38" fill="#000"/>
<rect x="864" y="240" width="11" height="22" fill="#000"/>
<rect x="865" y="241" width="9" height="20" fill="#ff0000"/>
<rect x="885" y="231" width="1" height="43" fill="#000"/>
<rect x="880" y="240" width="11" height="19" fill="#000"/>
<rect x="881" y="241" width="9" height="17" fill="#00ff00"/>
<rect x="901" y="245" width="1" height="58" fill="#000"/>
<rect x="896" y="259" width="11" height="32" fill="#000"/>
<rect x="897" y="260" width="9" height="30" fill="#00ff00"/>
<rect x="917" y="245" width="1" height="81" fill="#000"/>
<rect x="912" y="282" width="11" height="7" fill="#000"/>
<rect x="913" y="283" width="9" height="5" fill="#ff0000"/>
<rect x="933" y="268" width="1" height="109" fill="#000"/>
<rect x="928" y="282" width="11" height="54" fill="#000"/>
<rect x="929" y="283" width="9" height="52" fill="#00ff00"/>
<rect x="949" y="316" width="1" height="72" fill="#000"/>
<rect x="944" y="328" width="11" height="8" fill="#000"/>
<rect x="945" y="329" width="9" height="6" fill="#ff0000"/>
<rect x="965" y="297" width="1" height="32" fill="#000"/>
<rect x="960" y="302" width="11" height="27" fill="#000"/>
<rect x="961" y="303" width="9" height="25" fill="#ff0000"/>
<rect x="981" y="275" width="1" height="46" fill="#000"/>
<rect x="976" y="283" width="11" height="21" fill="#000"/>
<rect x="977" y="284" width="9" height="19" fill="#ff0000"/>
<rect x="997" y="203" width="1" height="82" fill="#000"/>
<rect x="992" y="234" width="11" height="51" fill="#000"/>
<rect x="993" y="235" width="9" height="49" fill="#ff0000"/>
<rect x="1013" y="191" width="1" height="75" fill="#000"/>
<rect x="1008" y="233" width="11" height="3" fill="#000"/>
<rect x="1009" y="234" width="9" height="1" fill="#00ff00"/>
<rect x="1029" y="235" width="1" height="226" fill="#000"/>
<rect x="1024" y="236" width="11" height="218" fill="#000"/>
<rect x="1025" y="237" width="9" height="216" fill="#00ff00"/>
<rect x="1045" y="448" width="1" height="96" fill="#000"/>
<rect x="1040" y="452" width="11" height="37" fill="#000"/>
<rect x="1041" y="453" width="9" height="35" fill="#00ff00"/>
<rect x="1061" y="479" width="1" height="39" fill="#000"/>
<rect x="1056" y="486" width="11" height="23" fill="#000"/>
<rect x="1057" y="487" width="9" height="21" fill="#00ff00"/>
<rect x="1077" y="485" width="1" height="36" fill="#000"/>
<rect x="1072" y="488" width="11" height="22" fill="#000"/>
<rect x="1073" y="489" width="9" height="20" fill="#ff0000"/>
<rect x="1093" y="461" width="1" height="111" fill="#000"/>
<rect x="1088" y="487" width="11" height="80" fill="#000"/>
<rect x="1089" y="488" width="9" height="78" fill="#00ff00"/>
<rect x="1109" y="425" width="1" height="165" fill="#000"/>
<rect x="1104" y="476" width="11" height="90" fill="#000"/>
<rect x="1105" y="477" width="9" height="88" fill="#ff0000"/>
<rect x="1125" y="388" width="1" height="105" fill="#000"/>
<rect x="1120" y="415" width="11" height="64" fill="#000"/>
<rect x="1121" y="416" width="9" height="62" fill="#ff0000"/>
<rect x="1141" y="385" width="1" height="63" fill="#000"/>
<rect x="1136" y="400" width="11" height="16" fill="#000"/>
<rect x="1137" y="401" width="9" height="14" fill="#ff0000"/>
<rect x="1157" y="376" width="1" height="66" fill="#000"/>
<rect x="1152" y="394" width="11" height="42" fill="#000"/>
<rect x="1153" y="395" width="9" height="40" fill="#00ff00"/>
<rect x="1173" y="431" width="1" height="43" fill="#000"/>
<rect x="1168" y="434" width="11" height="30" fill="#000"/>
<rect x="1169" y="435" width="9" height="28" fill="#00ff00"/>
<rect x="1189" y="422" width="1" height="45" fill="#000"/>
<rect x="1184" y="426" width="11" height="39" fill="#000"/>
<rect x="1185" y="427" width="9" height="37" fill="#ff0000"/>
<rect x="1205" y="393" width="1" height="41" fill="#000"/>
<rect x="1200" y="410" width="11" height="17" fill="#000"/>
<rect x="1201" y="411" width="9" height="15" fill="#ff0000"/>
<rect x="1221" y="241" width="1" height="176" fill="#000"/>
<rect x="1216" y="254" width="11" height="156" fill="#000"/>
<rect x="1217" y="255" width="9" height="154" fill="#ff0000"/>
<rect x="1237" y="202" width="1" height="70" fill="#000"/>
<rect x="1232" y="242" width="11" height="12" fill="#000"/>
<rect x="1233" y="243" width="9" height="10" fill="#ff0000"/>
<rect x="1253" y="190" width="1" height="77" fill="#000"/>
<rect x="1248" y="201" width="11" height="42" fill="#000"/>
<rect x="1249" y="202" width="9" height="40" fill="#ff0000"/>
<rect x="1269" y="200" width="1" height="25" fill="#000"/>
<rect x="1264" y="200" width="11" height="16" fill="#000"/>
<rect x="1265" y="201" width="9" height="14" fill="#00ff00"/>
<rect x="1285" y="205" width="1" height="16" fill="#000"/>
<rect x="1280" y="213" width="11" height="3" fill="#000"/>
<rect x="1281" y="214" width="9" height="1" fill="#ff0000"/>
<rect x="1301" y="168" width="1" height="64" fill="#000"/>
<rect x="1296" y="180" width="11" height="34" fill="#000"/>
<rect x="1297" y="181" width="9" height="32" fill="#ff0000"/>
<rect x="1317" y="52" width="1" height="312" fill="#000"/>
<rect x="1312" y="181" width="11" height="159" fill="#000"/>
<rect x="1313" y="182" width="9" height="157" fill="#00ff00"/>
<rect x="1333" y="218" width="1" height="206" fill="#000"/>
<rect x="1328" y="239" width="11" height="101" fill="#000"/>
<rect x="1329" y="240" width="9" height="99" fill="#ff0000"/>
<rect x="1349" y="227" width="1" height="71" fill="#000"/>
<rect x="1344" y="238" width="11" height="57" fill="#000"/>
<rect x="1345" y="239" width="9" height="55" fill="#00ff00"/>
</g>
<rect x="5" y="212" width="1612" height="2" fill="#ff0000"/>
<rect x="4" y="210" width="6" height="6" fill="#ff0000"/>
<rect x="6" y="212" width="2" height="2" fill="#fff"/>
<rect x="1611" y="210" width="6" height="6" fill="#ff0000"/>
<rect x="1613" y="212" width="2" height="2" fill="#fff"/>
<rect x="5" y="247" width="1612" height="2" fill="#ff0000"/>
<rect x="4" y="245" width="6" height="6" fill="#ff0000"/>
<rect x="6" y="247" width="2" height="2" fill="#fff"/>
<rect x="1611" y="245" width="6" height="6" fill="#ff0000"/>
<rect x="1613" y="247" width="2" height="2" fill="#fff"/>
<rect x="5" y="279" width="1612" height="2" fill="#ffa500"/>
<rect x="4" y="277" width="6" height="6" fill="#ffa500"/>
<rect x="6" y="279" width="2" height="2" fill="#fff"/>
<rect x="1611" y="277" width="6" height="6" fill="#ffa500"/>
<rect x="1613" y="279" width="2" height="2" fill="#fff"/>
<rect x="5" y="327" width="1612" height="2" fill="#0000ff"/>
<rect x="4" y="325" width="6" height="6" fill="#0000ff"/>
<rect x="6" y="327" width="2" height="2" fill="#fff"/>
<rect x="1611" y="325" width="6" height="6" fill="#0000ff"/>
<rect x="1613" y="327" width="2" height="2" fill="#fff"/>
<rect x="5" y="365" width="1612" height="2" fill="#0000ff"/>
<rect x="4" y="363" width="6" height="6" fill="#0000ff"/>
<rect x="6" y="365" width="2" height="2" fill="#fff"/>
<rect x="1611" y="363" width="6" height="6" fill="#0000ff"/>
<rect x="1613" y="365" width="2" height="2" fill="#fff"/>
<g shape-rendering="auto"><line x1="1380" y1="157.5" x2="1429" y2="267.5" stroke="#4e9a2e" stroke-width="3.1"/><polygon points="1419.5,268.5 1435.5,261 1434.5,279.5" fill="#4e9a2e"/></g>
<polygon points="1385,24 1396,24 1390.5,29.5" fill="#000" shape-rendering="auto"/>
<rect x="5" y="639" width="2" height="27" fill="#00ff00"/>
<rect x="20" y="642" width="3" height="24" fill="#00ff00"/>
<rect x="36" y="636" width="3" height="30" fill="#00ff00"/>
<rect x="52" y="630" width="3" height="36" fill="#00ff00"/>
<rect x="68" y="625" width="3" height="41" fill="#00ff00"/>
<rect x="84" y="622" width="3" height="44" fill="#00ff00"/>
<rect x="100" y="620" width="3" height="46" fill="#00ff00"/>
<rect x="116" y="621" width="3" height="45" fill="#00ff00"/>
<rect x="132" y="612" width="3" height="54" fill="#00ff00"/>
<rect x="148" y="611" width="3" height="55" fill="#00ff00"/>
<rect x="164" y="614" width="3" height="52" fill="#00ff00"/>
<rect x="180" y="617" width="3" height="49" fill="#00ff00"/>
<rect x="196" y="623" width="3" height="43" fill="#00ff00"/>
<rect x="212" y="632" width="3" height="34" fill="#00ff00"/>
<rect x="228" y="631" width="3" height="35" fill="#00ff00"/>
<rect x="244" y="638" width="3" height="28" fill="#00ff00"/>
<rect x="260" y="644" width="3" height="22" fill="#00ff00"/>
<rect x="276" y="652" width="3" height="14" fill="#00ff00"/>
<rect x="292" y="656" width="3" height="10" fill="#00ff00"/>
<rect x="308" y="666" width="3" height="1" fill="#00ff00"/>
<rect x="324" y="666" width="3" height="1" fill="#00ff00"/>
<rect x="340" y="660" width="3" height="6" fill="#00ff00"/>
<rect x="356" y="651" width="3" height="15" fill="#00ff00"/>
<rect x="372" y="644" width="3" height="22" fill="#00ff00"/>
<rect x="388" y="640" width="3" height="26" fill="#00ff00"/>
<rect x="404" y="639" width="3" height="27" fill="#00ff00"/>
<rect x="420" y="648" width="3" height="18" fill="#00ff00"/>
<rect x="436" y="643" width="3" height="23" fill="#00ff00"/>
<rect x="452" y="637" width="3" height="29" fill="#00ff00"/>
<rect x="468" y="635" width="3" height="31" fill="#00ff00"/>
<rect x="484" y="635" width="3" height="31" fill="#00ff00"/>
<rect x="500" y="636" width="3" height="30" fill="#00ff00"/>
<rect x="516" y="636" width="3" height="30" fill="#00ff00"/>
<rect x="532" y="643" width="3" height="23" fill="#00ff00"/>
<rect x="548" y="644" width="3" height="22" fill="#00ff00"/>
<rect x="564" y="642" width="3" height="24" fill="#00ff00"/>
<rect x="580" y="643" width="3" height="23" fill="#00ff00"/>
<rect x="596" y="645" width="3" height="21" fill="#00ff00"/>
<rect x="612" y="643" width="3" height="23" fill="#00ff00"/>
<rect x="628" y="651" width="3" height="15" fill="#00ff00"/>
<rect x="644" y="654" width="3" height="12" fill="#00ff00"/>
<rect x="660" y="659" width="3" height="7" fill="#00ff00"/>
<rect x="676" y="664" width="3" height="2" fill="#00ff00"/>
<rect x="692" y="666" width="3" height="4" fill="#00ff00"/>
<rect x="708" y="666" width="3" height="12" fill="#00ff00"/>
<rect x="724" y="666" width="3" height="14" fill="#00ff00"/>
<rect x="740" y="666" width="3" height="12" fill="#00ff00"/>
<rect x="756" y="666" width="3" height="10" fill="#00ff00"/>
<rect x="772" y="666" width="3" height="8" fill="#00ff00"/>
<rect x="788" y="666" width="3" height="8" fill="#00ff00"/>
<rect x="804" y="666" width="3" height="8" fill="#00ff00"/>
<rect x="820" y="666" width="3" height="14" fill="#00ff00"/>
<rect x="836" y="666" width="3" height="6" fill="#00ff00"/>
<rect x="852" y="662" width="3" height="4" fill="#00ff00"/>
<rect x="868" y="653" width="3" height="13" fill="#00ff00"/>
<rect x="884" y="647" width="3" height="19" fill="#00ff00"/>
<rect x="900" y="646" width="3" height="20" fill="#00ff00"/>
<rect x="916" y="644" width="3" height="22" fill="#00ff00"/>
<rect x="932" y="647" width="3" height="19" fill="#00ff00"/>
<rect x="948" y="649" width="3" height="17" fill="#00ff00"/>
<rect x="964" y="649" width="3" height="17" fill="#00ff00"/>
<rect x="980" y="647" width="3" height="19" fill="#00ff00"/>
<rect x="996" y="643" width="3" height="23" fill="#00ff00"/>
<rect x="1012" y="639" width="3" height="27" fill="#00ff00"/>
<rect x="1028" y="654" width="3" height="12" fill="#00ff00"/>
<rect x="1044" y="666" width="3" height="3" fill="#00ff00"/>
<rect x="1060" y="666" width="3" height="14" fill="#00ff00"/>
<rect x="1076" y="666" width="3" height="24" fill="#00ff00"/>
<rect x="1092" y="666" width="3" height="36" fill="#00ff00"/>
<rect x="1108" y="666" width="3" height="38" fill="#00ff00"/>
<rect x="1124" y="666" width="3" height="34" fill="#00ff00"/>
<rect x="1140" y="666" width="3" height="30" fill="#00ff00"/>
<rect x="1156" y="666" width="3" height="30" fill="#00ff00"/>
<rect x="1172" y="666" width="3" height="30" fill="#00ff00"/>
<rect x="1188" y="666" width="3" height="30" fill="#00ff00"/>
<rect x="1204" y="666" width="3" height="24" fill="#00ff00"/>
<rect x="1220" y="666" width="3" height="10" fill="#00ff00"/>
<rect x="1236" y="663" width="3" height="3" fill="#00ff00"/>
<rect x="1252" y="650" width="3" height="16" fill="#00ff00"/>
<rect x="1268" y="641" width="3" height="25" fill="#00ff00"/>
<rect x="1284" y="634" width="3" height="32" fill="#00ff00"/>
<rect x="1300" y="626" width="3" height="40" fill="#00ff00"/>
<rect x="1316" y="633" width="3" height="33" fill="#00ff00"/>
<rect x="1332" y="631" width="3" height="35" fill="#00ff00"/>
<rect x="1348" y="634" width="3" height="32" fill="#00ff00"/>
<polyline points="5,647 21,646.8 37,646.5 53,644.5 69,640 85,636 101,633.5 117,631.5 133,627.5 149,624 165,621 181,619 197,618.75 213,619 229,620 245,622.5 261,625 277,629 293,633.5 309,640 325,645.5 341,649.5 357,652.5 373,653 389,653 405,653 421,652.5 437,651.5 453,647 469,644.5 485,641 501,640 517,639.5 533,639.5 549,639.75 565,639.25 581,639 597,640 613,640.75 629,643.5 645,645.25 661,647 677,649.25 693,652 709,656 725,660 741,664.5 757,667 773,670 789,672.5 805,674.25 821,675.25 837,675.25 853,673.75 869,671.25 885,668.25 901,664 917,661.25 933,658.25 949,656.5 965,652 981,649.25 997,647.25 1013,646.25 1029,646.25 1045,649.25 1061,652.75 1077,657.5 1093,663 1109,669.5 1125,675.75 1141,681.75 1157,687.5 1173,692.5 1189,695.5 1205,695.75 1221,694.5 1237,690.5 1253,685 1269,678.5 1285,672 1301,663.75 1317,657 1333,650 1349,643.5" fill="none" stroke="#ff0000" stroke-width="2"/>
<line x1="6" y1="731.5" x2="1617" y2="731.5" stroke="#000" stroke-width="1" stroke-dasharray="3,3"/>
<line x1="6" y1="760.5" x2="1617" y2="760.5" stroke="#000" stroke-width="1" stroke-dasharray="3,3"/>
<line x1="6" y1="795.5" x2="1617" y2="795.5" stroke="#000" stroke-width="1" stroke-dasharray="3,3"/>
<polyline points="5,757 21,759.25 37,752 53,751.25 69,751 85,751 101,751 117,752.75 133,745.5 149,752.25 165,754.25 181,755 197,758 213,763 229,756 245,761.5 261,762.25 277,765 293,762 309,767.75 325,760.25 341,756 357,752.75 373,752.75 389,752.75 405,756 421,765 437,753.5 453,753.5 469,755.5 485,756.75 501,756.75 517,756.75 533,761.75 549,758 565,757 581,757 597,759.75 613,756 629,763.75 645,762.75 661,763.75 677,764.75 693,765.25 709,769 725,764.25 741,761 757,760.5 773,759.75 789,762.75 805,763.25 821,769 837,754.5 853,752 869,752 885,753.5 901,755.75 917,756 933,759.75 949,759.25 965,757 981,755.25 997,751.25 1013,751 1029,770.75 1045,772.75 1061,772.75 1077,772 1093,776.25 1109,766.75 1125,763.25 1141,763 1157,764.25 1173,766 1189,763 1205,761.75 1221,750 1237,750 1253,747.75 1269,749 1285,749 1301,747.75 1317,760.5 1333,754.75 1349,758" fill="none" stroke="#1e90ff" stroke-width="2"/>
<rect x="1618" y="39" width="2" height="1" fill="#000"/>
<rect x="1618" y="72" width="2" height="1" fill="#000"/>
<rect x="1618" y="105" width="2" height="1" fill="#000"/>
<rect x="1618" y="138" width="2" height="1" fill="#000"/>
<rect x="1618" y="171" width="2" height="1" fill="#000"/>
<rect x="1618" y="204" width="2" height="1" fill="#000"/>
<rect x="1618" y="237" width="2" height="1" fill="#000"/>
<rect x="1618" y="270" width="2" height="1" fill="#000"/>
<rect x="1618" y="303" width="2" height="1" fill="#000"/>
<rect x="1618" y="336" width="2" height="1" fill="#000"/>
<rect x="1618" y="369" width="2" height="1" fill="#000"/>
<rect x="1618" y="402" width="2" height="1" fill="#000"/>
<rect x="1618" y="435" width="2" height="1" fill="#000"/>
<rect x="1618" y="468" width="2" height="1" fill="#000"/>
<rect x="1618" y="501" width="2" height="1" fill="#000"/>
<rect x="1618" y="534" width="2" height="1" fill="#000"/>
<rect x="1618" y="567" width="2" height="1" fill="#000"/>
<rect x="1618" y="600" width="2" height="1" fill="#000"/>
<rect x="5" y="811" width="1" height="3" fill="#000"/>
<rect x="69" y="811" width="1" height="3" fill="#000"/>
<rect x="133" y="811" width="1" height="3" fill="#000"/>
<rect x="197" y="811" width="1" height="3" fill="#000"/>
<rect x="261" y="811" width="1" height="3" fill="#000"/>
<rect x="325" y="811" width="1" height="3" fill="#000"/>
<rect x="389" y="811" width="1" height="3" fill="#000"/>
<rect x="453" y="811" width="1" height="3" fill="#000"/>
<rect x="517" y="811" width="1" height="3" fill="#000"/>
<rect x="581" y="811" width="1" height="3" fill="#000"/>
<rect x="645" y="811" width="1" height="3" fill="#000"/>
<rect x="709" y="811" width="1" height="3" fill="#000"/>
<rect x="773" y="811" width="1" height="3" fill="#000"/>
<rect x="837" y="811" width="1" height="3" fill="#000"/>
<rect x="901" y="811" width="1" height="3" fill="#000"/>
<rect x="965" y="811" width="1" height="3" fill="#000"/>
<rect x="1029" y="811" width="1" height="3" fill="#000"/>
<rect x="1093" y="811" width="1" height="3" fill="#000"/>
<rect x="1157" y="811" width="1" height="3" fill="#000"/>
<rect x="1221" y="811" width="1" height="3" fill="#000"/>
<rect x="1285" y="811" width="1" height="3" fill="#000"/>
<rect x="1349" y="811" width="1" height="3" fill="#000"/>
<rect x="1618" y="607" width="1" height="1" fill="#000"/>
<rect x="1618" y="706" width="1" height="1" fill="#000"/>
<rect x="1618" y="666" width="2" height="1" fill="#000"/>
<rect x="1618" y="712" width="1" height="1" fill="#000"/>
<rect x="1618" y="809" width="1" height="1" fill="#000"/>
</svg>
<div class="t" style="left:1622.5px;top:33.5px;color:#000">34567.0</div>
<div class="t" style="left:1622.5px;top:66.5px;color:#000">34505.5</div>
<div class="t" style="left:1622.5px;top:99.5px;color:#000">34444.0</div>
<div class="t" style="left:1622.5px;top:132.5px;color:#000">34382.5</div>
<div class="t" style="left:1622.5px;top:165.5px;color:#000">34321.0</div>
<div class="t" style="left:1622.5px;top:198.5px;color:#000">34259.5</div>
<div class="t" style="left:1622.5px;top:231.5px;color:#000">34198.0</div>
<div class="t" style="left:1622.5px;top:264.5px;color:#000">34135.0</div>
<div class="t" style="left:1622.5px;top:297.5px;color:#000">34073.5</div>
<div class="t" style="left:1622.5px;top:330.5px;color:#000">34012.0</div>
<div class="t" style="left:1622.5px;top:363.5px;color:#000">33950.5</div>
<div class="t" style="left:1622.5px;top:396.5px;color:#000">33889.0</div>
<div class="t" style="left:1622.5px;top:429.5px;color:#000">33827.5</div>
<div class="t" style="left:1622.5px;top:462.5px;color:#000">33766.0</div>
<div class="t" style="left:1622.5px;top:495.5px;color:#000">33703.0</div>
<div class="t" style="left:1622.5px;top:528.5px;color:#000">33641.5</div>
<div class="t" style="left:1622.5px;top:561.5px;color:#000">33580.0</div>
<div class="t" style="left:1622.5px;top:594.5px;color:#000">33518.5</div>
<div class="pb" style="top:207px;background:#ff0000"><span>34242.1</span></div>
<div class="pb" style="top:242px;background:#ff0000"><span>34176.8</span></div>
<div class="pb" style="top:274px;background:#ffa500"><span>34117.0</span></div>
<div class="pb" style="top:289px;background:#000000"><span>34091.5</span></div>
<div class="pb" style="top:322px;background:#0000ff"><span>34027.4</span></div>
<div class="pb" style="top:360px;background:#0000ff"><span>33956.5</span></div>
<div class="t" style="left:1621px;top:607px;color:#000">116.71</div>
<div class="t" style="left:1621px;top:661px;color:#000">0.00</div>
<div class="t" style="left:1621px;top:696px;color:#000">-80.08</div>
<div class="t" style="left:1621px;top:712px;color:#000">100</div>
<div class="t" style="left:1620px;top:726px;color:#000">80</div>
<div class="t" style="left:1620px;top:755px;color:#000">50</div>
<div class="t" style="left:1620px;top:790px;color:#000">15</div>
<div class="t" style="left:1621px;top:798px;color:#000">0</div>
<div class="t" style="left:4px;top:813.5px;color:#000">26 Jan 2023</div>
<div class="t" style="left:68px;top:813.5px;color:#000">27 Jan 00:00</div>
<div class="t" style="left:132px;top:813.5px;color:#000">27 Jan 16:00</div>
<div class="t" style="left:196px;top:813.5px;color:#000">30 Jan 04:00</div>
<div class="t" style="left:260px;top:813.5px;color:#000">30 Jan 20:00</div>
<div class="t" style="left:324px;top:813.5px;color:#000">31 Jan 12:00</div>
<div class="t" style="left:388px;top:813.5px;color:#000">1 Feb 04:00</div>
<div class="t" style="left:452px;top:813.5px;color:#000">1 Feb 20:00</div>
<div class="t" style="left:516px;top:813.5px;color:#000">2 Feb 12:00</div>
<div class="t" style="left:580px;top:813.5px;color:#000">3 Feb 04:00</div>
<div class="t" style="left:644px;top:813.5px;color:#000">3 Feb 20:00</div>
<div class="t" style="left:708px;top:813.5px;color:#000">6 Feb 08:00</div>
<div class="t" style="left:772px;top:813.5px;color:#000">7 Feb 00:00</div>
<div class="t" style="left:836px;top:813.5px;color:#000">7 Feb 16:00</div>
<div class="t" style="left:900px;top:813.5px;color:#000">8 Feb 08:00</div>
<div class="t" style="left:964px;top:813.5px;color:#000">9 Feb 00:00</div>
<div class="t" style="left:1028px;top:813.5px;color:#000">9 Feb 16:00</div>
<div class="t" style="left:1092px;top:813.5px;color:#000">10 Feb 08:00</div>
<div class="t" style="left:1156px;top:813.5px;color:#000">12 Feb 23:00</div>
<div class="t" style="left:1220px;top:813.5px;color:#000">13 Feb 12:00</div>
<div class="t" style="left:1284px;top:813.5px;color:#000">14 Feb 04:00</div>
<div class="t" style="left:1348px;top:813.5px;color:#000">14 Feb 20:00</div>
<div class="t" style="left:20px;top:26px"><span style="letter-spacing:0.25px">DJ30-,H4</span>&nbsp; <span style="letter-spacing:-0.13px">34196.5 34216.5 34085.5 34091.5</span></div>
<div class="t" style="left:9px;top:609px;letter-spacing:0.05px">MACD(12,26,9) 62.93 45.65</div>
<div class="t" style="left:9px;top:713.5px;color:#000">RSI(14) 52.2062</div>
</body></html>
